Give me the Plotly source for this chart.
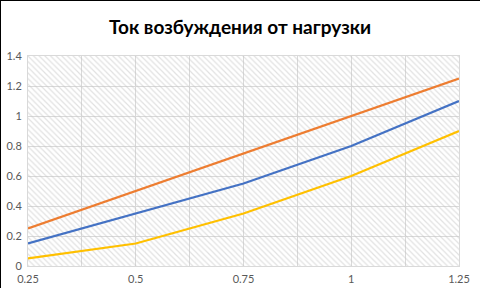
import plotly.graph_objects as go

x_vals = [0.25, 0.5, 0.75, 1.0, 1.25]
orange = [0.25, 0.5, 0.75, 1.0, 1.25]
blue = [0.15, 0.35, 0.55, 0.8, 1.1]
yellow = [0.05, 0.15, 0.35, 0.6, 0.9]
x_ticks = [0.25, 0.5, 0.75, 1.0, 1.25]
x_tick_text = ["0.25", "0.5", "0.75", "1", "1.25"]
y_ticks = [0, 0.2, 0.4, 0.6, 0.8, 1.0, 1.2, 1.4]
y_tick_text = ["0", "0.2", "0.4", "0.6", "0.8", "1", "1.2", "1.4"]
title_text = "Ток возбуждения от нагрузки"

W, H = 480, 288
ML, MR, MT, MB = 28, 21, 56, 22
PW = W - ML - MR
PH = H - MT - MB

fig = go.Figure()

# hatched background of the plot area
fig.add_trace(go.Scatter(
    x=[x_ticks[0], x_ticks[-1], x_ticks[-1], x_ticks[0], x_ticks[0]],
    y=[y_ticks[0], y_ticks[0], y_ticks[-1], y_ticks[-1], y_ticks[0]],
    mode="none", fill="toself", fillcolor="rgba(0,0,0,0)",
    fillpattern=dict(shape="\\", size=4, solidity=0.3,
                     fgcolor="#c4c4c4", bgcolor="rgba(0,0,0,0)"),
    hoverinfo="skip", showlegend=False))

for ys, col in [(orange, "#ED7D31"), (blue, "#4472C4"), (yellow, "#FFC000")]:
    fig.add_trace(go.Scatter(x=x_vals, y=ys, mode="lines",
                             line=dict(color=col, width=2.25),
                             showlegend=False))

fig.update_layout(
    width=W, height=H,
    margin=dict(l=ML, r=MR, t=MT, b=MB, pad=0, autoexpand=False),
    paper_bgcolor="white", plot_bgcolor="white",
    font=dict(family="Lato, Carlito, Calibri, sans-serif", size=11, color="#595959"),
    title=dict(text="<b>" + title_text + "</b>", x=0.5, xanchor="center",
               y=1 - 27 / H, yanchor="middle", yref="container",
               font=dict(family="Lato, sans-serif", size=19, color="#000000")),
    showlegend=False,
    shapes=[
        dict(type="line", xref="paper", yref="paper",
             x0=-ML / PW, x1=-ML / PW, y0=-MB / PH, y1=1 + MT / PH,
             line=dict(color="black", width=2)),
        dict(type="line", xref="paper", yref="paper",
             x0=-ML / PW, x1=1 + MR / PW, y0=1 + MT / PH, y1=1 + MT / PH,
             line=dict(color="black", width=2)),
    ],
)
fig.update_xaxes(range=[x_ticks[0], x_ticks[-1]], tickmode="array",
                 tickvals=x_ticks, ticktext=x_tick_text, automargin=False,
                 showgrid=True, gridcolor="#d9d9d9", gridwidth=1,
                 minor=dict(dtick=0.125, showgrid=True, gridcolor="#d9d9d9", gridwidth=1),
                 zeroline=False, showline=True, linecolor="#d9d9d9", mirror=True,
                 ticks="", ticklabelstandoff=3)
fig.update_yaxes(range=[y_ticks[0], y_ticks[-1]], tickmode="array",
                 tickvals=y_ticks, ticktext=y_tick_text, automargin=False,
                 showgrid=True, gridcolor="#d9d9d9", gridwidth=1,
                 zeroline=False, showline=True, linecolor="#d9d9d9", mirror=True,
                 ticks="", ticklabelstandoff=3)

fig.write_html("out.html")
